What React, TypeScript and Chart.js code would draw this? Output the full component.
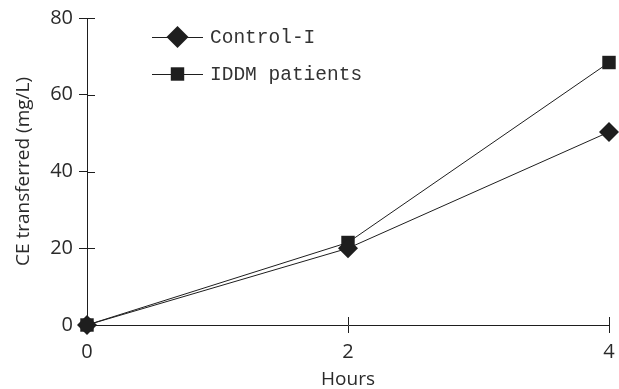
import React, { useEffect, useRef } from "react";
import { Chart, registerables } from "chart.js";

Chart.register(...registerables);

const hours = [0, 2, 4];
const controlI = [0, 20, 50.3];
const iddmPatients = [0, 21.5, 68.4];
const seriesLabels = ["Control-I", "IDDM patients"];
const xTicks = [0, 2, 4];
const yTicks = [0, 20, 40, 60, 80];

const INK = "#1e1e1e";
const TEXT = "#2a2a2a";

function drawMarker(ctx: CanvasRenderingContext2D, style: string, x: number, y: number, r: number) {
  ctx.beginPath();
  if (style === "rectRot") {
    ctx.moveTo(x, y - r);
    ctx.lineTo(x + r, y);
    ctx.lineTo(x, y + r);
    ctx.lineTo(x - r, y);
    ctx.closePath();
  } else {
    const s = r * Math.SQRT1_2;
    ctx.rect(x - s, y - s, 2 * s, 2 * s);
  }
  ctx.fill();
}

const innerTicks = {
  id: "innerTicks",
  afterDraw(chart: any) {
    const ctx = chart.ctx as CanvasRenderingContext2D;
    const xs = chart.scales.x;
    const ys = chart.scales.y;
    ctx.save();
    ctx.strokeStyle = INK;
    ctx.lineWidth = 1;
    ctx.beginPath();
    ys.ticks.forEach((t: any) => {
      const py = Math.round(ys.getPixelForValue(t.value)) + 0.5;
      ctx.moveTo(xs.left, py);
      ctx.lineTo(xs.left + 8, py);
    });
    xs.ticks.forEach((t: any) => {
      if (t.value === xs.min) return;
      const px = Math.round(xs.getPixelForValue(t.value)) + 0.5;
      ctx.moveTo(px, ys.bottom);
      ctx.lineTo(px, ys.bottom - 8);
    });
    ctx.stroke();
    ctx.restore();
  },
};

const customLegend = {
  id: "customLegend",
  afterDatasetsDraw(chart: any) {
    const ctx = chart.ctx as CanvasRenderingContext2D;
    const area = chart.chartArea;
    ctx.save();
    chart.data.datasets.forEach((ds: any, i: number) => {
      const y = area.top + 19 + i * 37;
      const x0 = area.left + 65;
      const x1 = area.left + 116;
      ctx.strokeStyle = INK;
      ctx.lineWidth = 1;
      ctx.beginPath();
      ctx.moveTo(x0, y + 0.5);
      ctx.lineTo(x1, y + 0.5);
      ctx.stroke();
      ctx.fillStyle = INK;
      drawMarker(ctx, ds.pointStyle, (x0 + x1) / 2, y, ds.pointStyle === "rectRot" ? 11 : 9.5);
      ctx.fillStyle = "#333";
      ctx.font = "19.5px 'Liberation Mono'";
      ctx.textBaseline = "middle";
      ctx.textAlign = "left";
      ctx.fillText(ds.label, x1 + 7, y + 1);
    });
    ctx.restore();
  },
};

export default function App() {
  const ref = useRef<HTMLCanvasElement | null>(null);
  useEffect(() => {
    document.body.style.margin = "0";
    if (!ref.current) return;
    const chart = new Chart(ref.current, {
      type: "line",
      data: {
        datasets: [
          {
            label: seriesLabels[0],
            data: hours.map((h, i) => ({ x: h, y: controlI[i] })),
            borderColor: INK,
            backgroundColor: INK,
            borderWidth: 1,
            pointStyle: "rectRot",
            pointRadius: 10,
            pointBorderWidth: 0,
            tension: 0,
            clip: false,
          },
          {
            label: seriesLabels[1],
            data: hours.map((h, i) => ({ x: h, y: iddmPatients[i] })),
            borderColor: INK,
            backgroundColor: INK,
            borderWidth: 1,
            pointStyle: "rect",
            pointRadius: 9.5,
            pointBorderWidth: 0,
            tension: 0,
            clip: false,
          },
        ],
      },
      options: {
        animation: false,
        responsive: true,
        maintainAspectRatio: false,
        layout: { padding: { top: 15, right: 9, left: 0, bottom: 0 } },
        plugins: { legend: { display: false }, tooltip: { enabled: false } },
        scales: {
          x: {
            type: "linear",
            min: 0,
            max: 4,
            afterBuildTicks: (s: any) => {
              s.ticks = xTicks.map((v) => ({ value: v }));
            },
            afterFit: (s: any) => {
              s.height = 64;
              s.paddingRight = 0;
              s.paddingLeft = 0;
            },
            grid: { display: true, drawOnChartArea: false, drawTicks: true, tickLength: 8, color: INK, lineWidth: 1 },
            border: { display: true, color: INK, width: 1 },
            ticks: { color: TEXT, font: { family: "'Open Sans'", size: 20 }, padding: 7, maxRotation: 0 },
            title: { display: true, text: "Hours", color: TEXT, font: { family: "'Open Sans'", size: 19, lineHeight: 1.0 }, padding: { top: 0, bottom: 0 } },
          },
          y: {
            min: 0,
            max: 80,
            afterBuildTicks: (s: any) => {
              s.ticks = yTicks.map((v) => ({ value: v }));
            },
            afterFit: (s: any) => {
              s.width = 87;
            },
            grid: { display: true, drawOnChartArea: false, drawTicks: true, tickLength: 8, color: INK, lineWidth: 1 },
            border: { display: true, color: INK, width: 1 },
            ticks: { color: TEXT, font: { family: "'Open Sans'", size: 20 }, padding: 6 },
            title: { display: true, text: "CE transferred (mg/L)", color: TEXT, font: { family: "'Open Sans'", size: 19 }, padding: { top: 12, bottom: 0 } },
          },
        },
      },
      plugins: [innerTicks, customLegend],
    });
    return () => chart.destroy();
  }, []);
  return (
    <div style={{ position: "absolute", left: 0, top: 0, width: 619, height: 389 }}>
      <canvas ref={ref} />
    </div>
  );
}
